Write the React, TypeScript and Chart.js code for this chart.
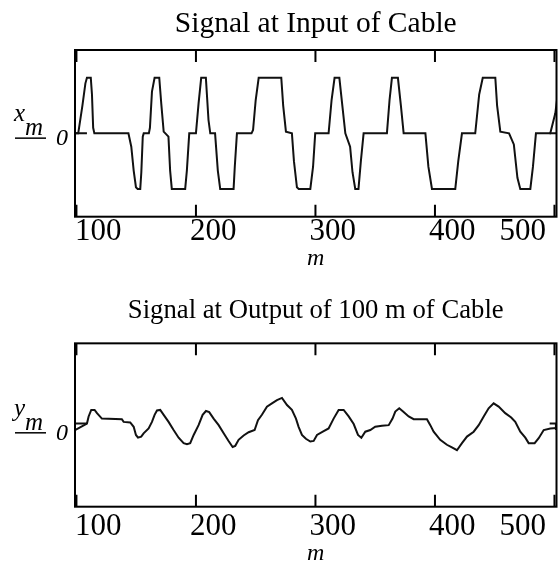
import { useEffect, useRef } from 'react';
import { Chart, registerables } from 'chart.js';

Chart.register(...registerables);

// ---- data ----
const tickValues = [100, 200, 300, 400, 500];
const tickLabels = ['100', '200', '300', '400', '500'];
const xMin = 98.8;
const xMax = 501.7;

// Input signal x_m: vertices (m, value)
const inM = [98.8, 101.5, 105, 107.5, 108.8, 112, 113, 114, 115, 143.5, 145.9, 147.9, 149.8, 151.2, 153.4, 154.3, 155.5, 156.3,
  160.6, 161.5, 163.2, 165.4, 169.3, 171, 173, 177, 178.4, 179.8, 191, 192.4, 194.4, 200, 202.2, 204.4, 208.3, 210.5, 212,
  216, 218.3, 220.3, 231.5, 232.5, 234.3, 246.5, 247.8, 250, 252.5, 271.4, 273, 275.3, 280.3, 282, 284.5, 286, 295.7, 298,
  299.8, 311, 313.5, 316, 320, 322.5, 325, 329, 331, 333.3, 336, 338, 340.3, 359.8, 362, 364, 369, 371.5, 373.8, 392, 394.5,
  397.5, 417, 419.5, 422.6, 433.7, 437, 440, 450.5, 452, 454.7, 462, 466, 469, 471.4, 479.8, 482, 484.5, 496.5, 500.7, 503];
const inX = [0, 0, 0.5, 0.9, 1, 1, 0.7, 0.1, 0, 0, -0.24, -0.67, -0.97, -1, -1, -0.7, -0.06, 0,
  0, 0.1, 0.75, 1, 1, 0.53, 0.03, -0.06, -0.67, -1, -1, -0.67, 0, 0, 0.54, 1, 1, 0.24, 0,
  0, -0.67, -1, -1, -0.6, 0, 0, 0.06, 0.6, 1, 1, 0.5, 0.03, 0, -0.5, -0.97, -1, -1, -0.6,
  0, 0, 0.6, 1, 1, 0.5, 0, -0.24, -0.7, -1, -1, -0.5, 0, 0, 0.6, 1, 1, 0.5, 0, 0, -0.6,
  -1, -1, -0.5, 0, 0, 0.7, 1, 1, 0.5, 0.03, 0, -0.2, -0.8, -1, -1, -0.6, 0, 0, 0.36, 0.75];
const inStubM = [98.8, 108.8, null, 495.9, 502];
const inStubX = [0, 0, null, 0, 0];

// Output signal y_m after 100 m of cable
const outM = [98.8, 108.8, 110.2, 112.4, 115.2, 117.2, 121.3, 138, 139.5, 145, 147.9, 149.8, 151.5, 154.2, 156.2, 160.4,
  163.2, 165.4, 167.4, 170.1, 173, 177.1, 181.3, 185.5, 189.7, 192.5, 195.2, 198.1, 202.2, 205.6, 208.4, 211.1, 214.8, 219,
  223.2, 227.3, 230.7, 232.9, 235.7, 239.9, 244.1, 249.1, 251.9, 255.2, 259.4, 263.6, 267.8, 272, 276.2, 280.3, 283.7, 285.9,
  288.7, 292, 295.7, 298.5, 301.3, 306.9, 311, 315.2, 319.4, 323.6, 327.8, 332, 335.6, 338.4, 341.7, 345.9, 350, 355.6,
  361.3, 364.5, 366.8, 370.1, 373.8, 378, 382.2, 393.3, 396.1, 398.9, 404.4, 410, 414.2, 418.4, 422.6, 426.8, 432.4, 436.6,
  440.8, 444.9, 449.1, 453.3, 458.8, 463.8, 467.2, 471.4, 475.6, 478.4, 483.4, 486.8, 491, 496.5, 501.7];
const outY = [-0.01, 0.11, 0.24, 0.36, 0.36, 0.3, 0.2, 0.19, 0.14, 0.13, 0.05, -0.1, -0.15, -0.13, -0.07, 0.02,
  0.14, 0.27, 0.35, 0.36, 0.27, 0.14, -0.01, -0.15, -0.25, -0.27, -0.25, -0.1, 0.08, 0.27, 0.34, 0.32, 0.2, 0.08,
  -0.07, -0.21, -0.32, -0.3, -0.19, -0.11, -0.05, -0.01, 0.17, 0.27, 0.42, 0.48, 0.54, 0.58, 0.45, 0.36, 0.2, 0.05,
  -0.1, -0.17, -0.22, -0.21, -0.1, -0.03, 0.02, 0.2, 0.36, 0.36, 0.24, 0.1, -0.1, -0.15, -0.04, -0.01, 0.05, 0.07,
  0.08, 0.2, 0.33, 0.39, 0.32, 0.24, 0.19, 0.19, 0.08, -0.04, -0.19, -0.28, -0.33, -0.38, -0.25, -0.13, -0.04, 0.08,
  0.24, 0.39, 0.48, 0.42, 0.3, 0.22, 0.14, -0.04, -0.15, -0.25, -0.25, -0.16, -0.01, 0.02, 0.03];
const outStubM = [98.8, 108.8, null, 496, 501.2, 501.2];
const outStubY = [0.11, 0.11, null, 0.11, 0.11, -0.01];

const SERIF = '"Liberation Serif", "Times New Roman", serif';

function pts(ms: (number | null)[], vs: (number | null)[]) {
  return ms.map((m, i) => (m === null ? { x: NaN, y: NaN } : { x: m, y: vs[i] as number }));
}

function framePlugin(sym: string, nudge: number, labelOffset: number) {
  return {
    id: 'frameAndLabels',
    afterDraw(chart: any) {
      const { ctx, chartArea: a, scales } = chart;
      const xs = scales.x;
      const ys = scales.y;
      ctx.save();
      ctx.strokeStyle = '#000';
      ctx.lineWidth = 2;
      ctx.strokeRect(a.left, a.top, a.right - a.left, a.bottom - a.top);
      // inside tick marks, top and bottom
      ctx.beginPath();
      tickValues.forEach((v) => {
        const px = xs.getPixelForValue(v);
        ctx.moveTo(px, a.top);
        ctx.lineTo(px, a.top + 12);
        ctx.moveTo(px, a.bottom);
        ctx.lineTo(px, a.bottom - 12);
      });
      ctx.stroke();
      // tick labels
      ctx.fillStyle = '#000';
      ctx.font = '31px ' + SERIF;
      ctx.textBaseline = 'middle';
      ctx.textAlign = 'left';
      tickLabels.forEach((t, i) => {
        const px = xs.getPixelForValue(tickValues[i]);
        const w = ctx.measureText(t).width;
        let x = Math.max(a.left, px - 6);
        x = Math.min(x, 546 - w);
        ctx.fillText(t, x, a.bottom + labelOffset);
      });
      // y label  (sym_m underlined) and 0
      const z = ys.getPixelForValue(0) + nudge;
      ctx.textBaseline = 'alphabetic';
      ctx.font = 'italic 25px ' + SERIF;
      ctx.fillText(sym, 14, z - 12);
      ctx.fillText('m', 25, z + 1.5);
      ctx.lineWidth = 1.5;
      ctx.beginPath();
      ctx.moveTo(15, z + 4.8);
      ctx.lineTo(46, z + 4.8);
      ctx.stroke();
      ctx.font = 'italic 24px ' + SERIF;
      ctx.textAlign = 'right';
      ctx.fillText('0', 68, z + 11.8);
      ctx.restore();
    },
  };
}

function buildConfig(opts: {
  title: string; titleSize: number; titlePad: { top: number; bottom: number }; axisH: number; mPad: number;
  yMin: number; yMax: number; main: any[]; stub: any[]; sym: string; nudge: number; labelOffset: number;
}): any {
  const line = { borderColor: '#111', borderWidth: 2, pointRadius: 0, fill: false, tension: 0, spanGaps: false };
  return {
    type: 'line',
    data: {
      datasets: [
        { ...line, data: opts.main },
        { ...line, data: opts.stub },
      ],
    },
    options: {
      responsive: false,
      animation: false,
      events: [],
      layout: { padding: { left: 75, right: 1.5, top: 0, bottom: 0 } },
      plugins: {
        legend: { display: false },
        tooltip: { enabled: false },
        title: {
          display: true,
          text: opts.title,
          color: '#000',
          font: { family: SERIF, size: opts.titleSize, weight: 'normal', lineHeight: 1.2 },
          padding: opts.titlePad,
        },
      },
      scales: {
        x: {
          type: 'linear',
          min: xMin,
          max: xMax,
          grid: { display: false },
          border: { display: false },
          ticks: { display: false },
          title: {
            display: true,
            text: 'm',
            color: '#000',
            font: { family: SERIF, size: 24, style: 'italic', lineHeight: 1 },
            padding: { top: 0, bottom: opts.mPad },
          },
          afterFit: (s: any) => { s.height = opts.axisH; },
        },
        y: { display: false, min: opts.yMin, max: opts.yMax },
      },
    },
    plugins: [framePlugin(opts.sym, opts.nudge, opts.labelOffset)],
  };
}

export default function App() {
  const topRef = useRef<HTMLCanvasElement>(null);
  const botRef = useRef<HTMLCanvasElement>(null);
  useEffect(() => {
    const c1 = new Chart(topRef.current as HTMLCanvasElement, buildConfig({
      title: 'Signal at Input of Cable',
      titleSize: 29.5,
      titlePad: { top: 6.3, bottom: 8.3 },
      axisH: 64.3,
      mPad: 10.6,
      yMin: -1.5,
      yMax: 1.5,
      main: pts(inM, inX),
      stub: pts(inStubM, inStubX),
      sym: 'x',
      nudge: 0,
      labelOffset: 15.5,
    }));
    const c2 = new Chart(botRef.current as HTMLCanvasElement, buildConfig({
      title: 'Signal at Output of 100 m of Cable',
      titleSize: 26.7,
      titlePad: { top: 14, bottom: 16.3 },
      axisH: 55.3,
      mPad: -4,
      yMin: -1.417,
      yMax: 1.582,
      main: pts(outM, outY),
      stub: pts(outStubM, outStubY),
      sym: 'y',
      nudge: -1.5,
      labelOffset: 20,
    }));
    return () => { c1.destroy(); c2.destroy(); };
  }, []);
  return (
    <div style={{ position: 'absolute', left: 0, top: 0, width: 558, height: 562, background: '#fff' }}>
      <canvas ref={topRef} width={558} height={281} style={{ display: 'block' }} />
      <canvas ref={botRef} width={558} height={281} style={{ display: 'block' }} />
    </div>
  );
}
